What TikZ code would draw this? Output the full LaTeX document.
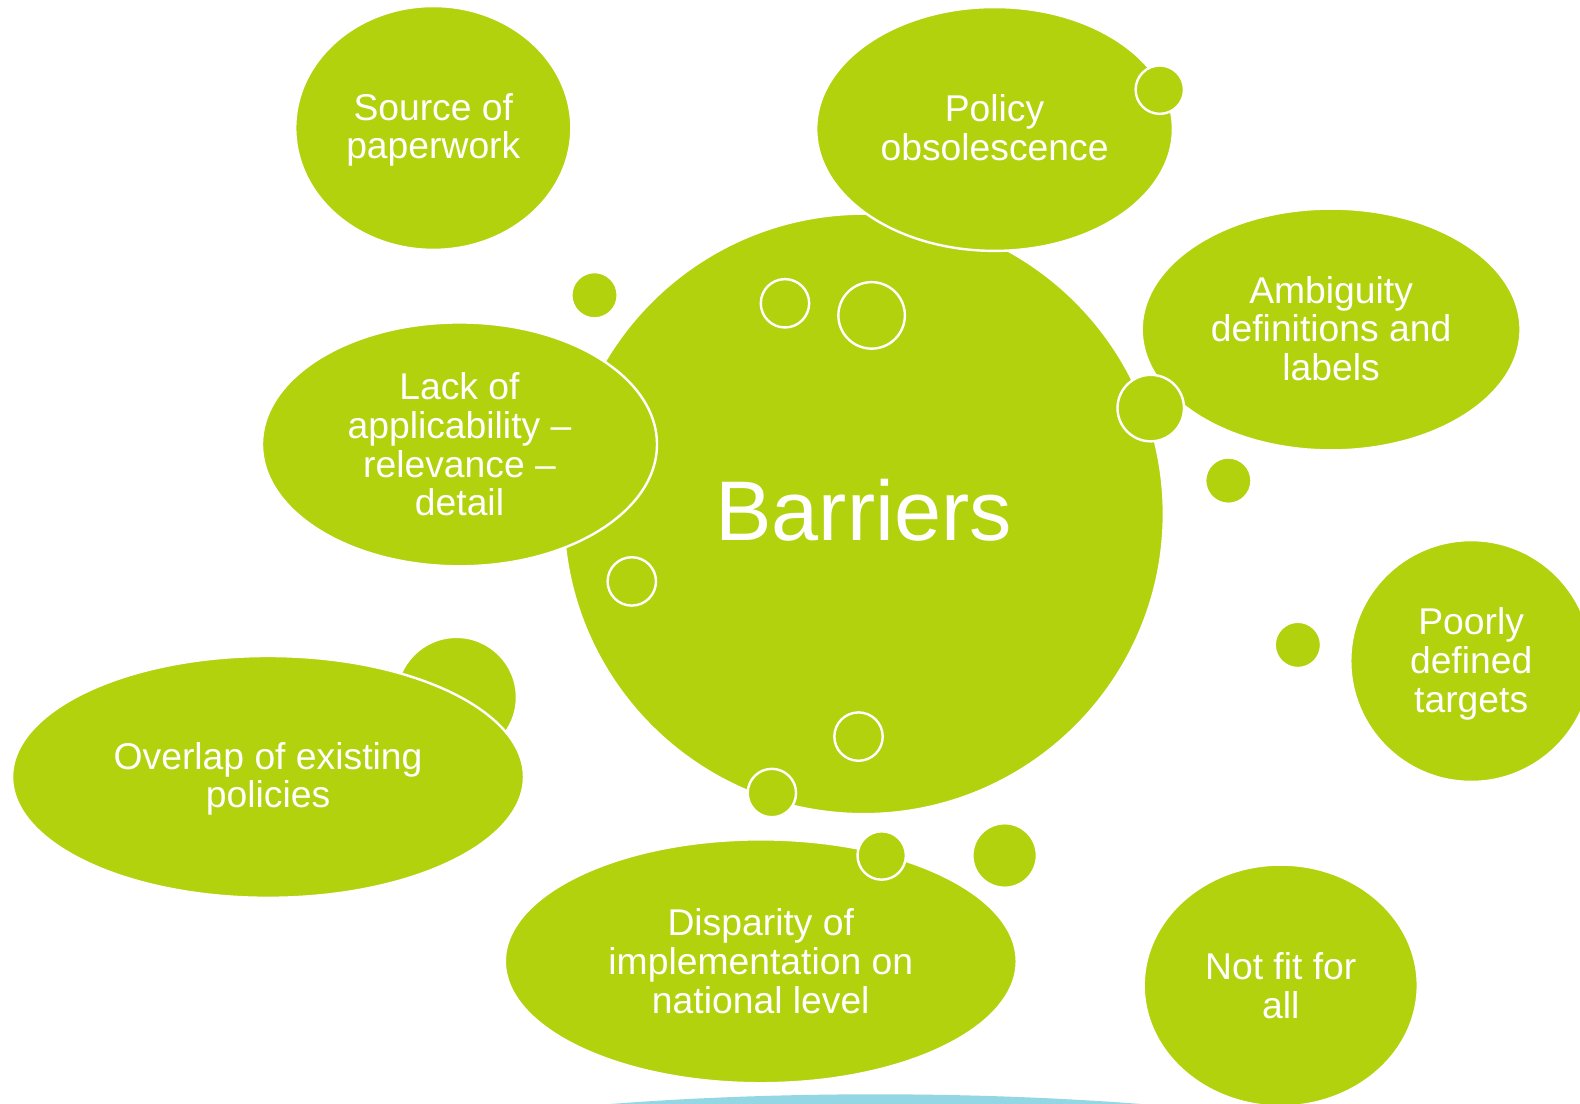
\documentclass[tikz,border=0pt]{standalone}
\usepackage{fontspec}
\setmainfont{Liberation Sans}
\usetikzlibrary{shapes.geometric}
\definecolor{bgreen}{RGB}{178,210,14}
\definecolor{bcyan}{RGB}{146,215,227}
\newcommand{\bodyfnt}{\fontsize{18.5}{19.2}\selectfont}
\tikzset{
  blob/.style={ellipse, fill=bgreen, draw=white, line width=1.2pt, inner sep=0pt},
  lbl/.style={text=white, align=center, font=\bodyfnt, inner sep=0pt},
  dot/.style={circle, fill=bgreen, draw=white, line width=1.2pt, inner sep=0pt,
    minimum size=#1 pt},
}
\begin{document}
\begin{tikzpicture}[x=0.5pt,y=-0.5pt]
\useasboundingbox (0,0) rectangle (1568,1095);
\fill[white] (0,0) rectangle (1568,1095);
% cyan shape at the bottom edge
\node[ellipse, fill=bcyan, inner sep=0pt, minimum width=670pt, minimum height=120pt] (cyan) at (869,1206) {};
% circle behind overlap
\node[dot=60] (c0) at (453,692) {};
% main circle
\node[dot=298] (bar) at (857,510) {};
\node[text=white, font=\fontsize{42}{44}\selectfont, inner sep=0pt] (bart) at (857,506) {Barriers};
% ellipses
\node[blob, minimum width=137pt, minimum height=121pt] (src) at (430,127) {};
\node[lbl] (srct) at (430,129) {Source of\\paperwork};
\node[blob, minimum width=177pt, minimum height=121pt] (pol) at (987,128) {};
\node[lbl] (polt) at (987,127) {Policy\\obsolescence};
\node[dot=24] (c1) at (1151,89) {};
\node[blob, minimum width=196pt, minimum height=121pt] (lack) at (456,441) {};
\node[lbl] (lackt) at (456,441) {Lack of\\applicability –\\relevance –\\detail};
\node[blob, minimum width=188pt, minimum height=120pt] (amb) at (1321,327) {};
\node[lbl] (ambt) at (1321,326) {Ambiguity\\definitions and\\labels};
\node[blob, minimum width=120pt, minimum height=120pt] (poor) at (1460,656) {};
\node[lbl] (poort) at (1460,659) {Poorly\\defined\\targets};
\node[blob, minimum width=254pt, minimum height=120pt] (ovl) at (266,771) {};
\node[lbl] (ovlt) at (266,773) {Overlap of existing\\policies};
\node[blob, minimum width=254pt, minimum height=121pt] (disp) at (755,954) {};
\node[lbl] (dispt) at (755,954) {Disparity of\\implementation on\\national level};
\node[blob, minimum width=136pt, minimum height=120pt] (nfit) at (1271,978) {};
\node[lbl] (nfitt) at (1271,978) {Not fit for\\all};
% small circles
\node[dot=23] (c2) at (590,293) {};
\node[dot=24] (c3) at (779,301) {};
\node[dot=33] (c4) at (865,313) {};
\node[dot=24] (c5) at (627,577) {};
\node[dot=33] (c6) at (1142,405) {};
\node[dot=23] (c7) at (1219,477) {};
\node[dot=23] (c8) at (1288,640) {};
\node[dot=24] (c9) at (852,731) {};
\node[dot=24] (c10) at (766,787) {};
\node[dot=24] (c11) at (875,849) {};
\node[dot=32] (c12) at (997,849) {};
\end{tikzpicture}
\end{document}
